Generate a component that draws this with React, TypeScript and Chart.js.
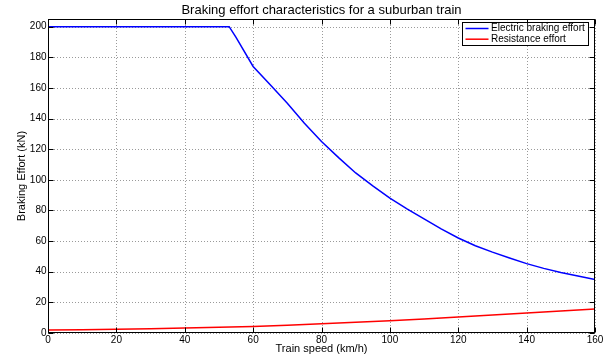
import React, { useEffect, useRef } from 'react';
import { Chart, registerables } from 'chart.js';

Chart.register(...registerables);

const chartTitle = 'Braking effort characteristics for a suburban train';
const xAxisTitle = 'Train speed (km/h)';
const yAxisTitle = 'Braking Effort (kN)';
const seriesNames = ['Electric braking effort', 'Resistance effort'];
const seriesColors = ['#0000ff', '#ff0000'];

const electricSpeed = [0, 10, 20, 30, 40, 50, 53, 55, 60, 65, 70, 75, 80, 85, 90, 95, 100, 105, 110, 115, 120, 125, 130, 135, 140, 145, 150, 155, 160];
const electricForce = [200, 200, 200, 200, 200, 200, 200, 193, 174, 162, 150, 137, 125, 114.5, 104.5, 96, 88, 81, 74.5, 68, 62, 57, 52.8, 49, 45.3, 42.2, 39.5, 37.2, 35];

const resistanceSpeed = [0, 10, 20, 30, 40, 50, 60, 70, 80, 90, 100, 110, 120, 130, 140, 150, 160];
const resistanceForce = [2, 2.2, 2.5, 2.8, 3.2, 3.7, 4.3, 5.1, 6, 7, 8, 9.2, 10.4, 11.7, 13, 14.3, 15.6];

const xMin = 0;
const xMax = 160;
const xStep = 20;
const yMin = 0;
const yMax = 205;
const yStep = 20;

const FONT = '"Liberation Sans", Arial, Helvetica, sans-serif';

const matlabPlugin = {
  id: 'matlabAxes',
  beforeDatasetsDraw(chart: any) {
    const { ctx, chartArea: a, scales } = chart;
    const x = scales.x;
    const y = scales.y;
    ctx.save();
    ctx.strokeStyle = '#9a9a9a';
    ctx.lineWidth = 1;
    ctx.setLineDash([1, 2]);
    x.ticks.forEach((t: any) => {
      const px = Math.round(x.getPixelForValue(t.value)) + 0.5;
      ctx.beginPath();
      ctx.moveTo(px, a.top);
      ctx.lineTo(px, a.bottom);
      ctx.stroke();
    });
    y.ticks.forEach((t: any) => {
      const py = Math.round(y.getPixelForValue(t.value)) + 0.5;
      ctx.beginPath();
      ctx.moveTo(a.left, py);
      ctx.lineTo(a.right, py);
      ctx.stroke();
    });
    ctx.restore();
  },
  afterDatasetsDraw(chart: any) {
    const { ctx, chartArea: a, scales } = chart;
    const x = scales.x;
    const y = scales.y;
    ctx.save();
    ctx.setLineDash([]);
    ctx.strokeStyle = '#000';
    ctx.lineWidth = 1;
    const L = Math.round(a.left) + 0.5;
    const R = Math.round(a.right) - 0.5;
    const T = Math.round(a.top) + 0.5;
    const B = Math.round(a.bottom) - 0.5;
    ctx.strokeRect(L, T, R - L, B - T);
    const tl = 5;
    ctx.beginPath();
    x.ticks.forEach((t: any) => {
      const px = Math.round(x.getPixelForValue(t.value)) + 0.5;
      ctx.moveTo(px, B);
      ctx.lineTo(px, B - tl);
      ctx.moveTo(px, T);
      ctx.lineTo(px, T + tl);
    });
    y.ticks.forEach((t: any) => {
      const py = Math.round(y.getPixelForValue(t.value)) + 0.5;
      ctx.moveTo(L, py);
      ctx.lineTo(L + tl, py);
      ctx.moveTo(R, py);
      ctx.lineTo(R - tl, py);
    });
    ctx.stroke();

    // legend
    const lx = 462.5;
    const ly = 22.5;
    const lw = 126;
    const lh = 23;
    ctx.fillStyle = '#fff';
    ctx.fillRect(lx, ly, lw, lh);
    ctx.strokeStyle = '#000';
    ctx.strokeRect(lx, ly, lw, lh);
    ctx.font = '10px ' + FONT;
    ctx.textBaseline = 'middle';
    ctx.textAlign = 'left';
    seriesNames.forEach((name, i) => {
      const ry = ly + 6 + i * 10.7;
      ctx.strokeStyle = seriesColors[i];
      ctx.lineWidth = 1.5;
      ctx.beginPath();
      ctx.moveTo(lx + 3, ry);
      ctx.lineTo(lx + 26, ry);
      ctx.stroke();
      ctx.fillStyle = '#000';
      ctx.fillText(name, lx + 28.5, ry);
    });

    // title
    ctx.font = '13px ' + FONT;
    ctx.textAlign = 'center';
    ctx.textBaseline = 'middle';
    ctx.fillStyle = '#000';
    ctx.fillText(chartTitle, (a.left + a.right) / 2, 10);
    ctx.restore();
  },
};

export default function App() {
  const canvasRef = useRef<HTMLCanvasElement | null>(null);

  useEffect(() => {
    if (!canvasRef.current) return;
    const chart = new Chart(canvasRef.current, {
      type: 'line',
      data: {
        datasets: [
          {
            label: seriesNames[0],
            data: electricSpeed.map((v, i) => ({ x: v, y: electricForce[i] })),
            borderColor: seriesColors[0],
            borderWidth: 1.5,
            pointRadius: 0,
            tension: 0,
            fill: false,
          },
          {
            label: seriesNames[1],
            data: resistanceSpeed.map((v, i) => ({ x: v, y: resistanceForce[i] })),
            borderColor: seriesColors[1],
            borderWidth: 1.5,
            pointRadius: 0,
            tension: 0,
            fill: false,
          },
        ],
      },
      options: {
        animation: false,
        responsive: false,
        devicePixelRatio: 1,
        layout: { padding: { left: 0, right: 18, top: 19, bottom: 0 } },
        plugins: {
          legend: { display: false },
          title: { display: false },
          tooltip: { enabled: false },
        },
        scales: {
          x: {
            type: 'linear',
            min: xMin,
            max: xMax,
            grid: { display: false, drawTicks: false },
            border: { display: false },
            ticks: {
              stepSize: xStep,
              includeBounds: false,
              padding: 1,
              color: '#000',
              font: { size: 10, family: FONT },
              maxRotation: 0,
            },
            title: {
              display: true,
              text: xAxisTitle,
              color: '#000',
              font: { size: 11, family: FONT },
              padding: { top: 0, bottom: 4.4 },
            },
            afterFit: (s: any) => {
              s.height = 27;
            },
          },
          y: {
            type: 'linear',
            min: yMin,
            max: yMax,
            grid: { display: false, drawTicks: false },
            border: { display: false },
            ticks: {
              stepSize: yStep,
              includeBounds: false,
              padding: 1.5,
              color: '#000',
              font: { size: 10, family: FONT },
            },
            title: {
              display: true,
              text: yAxisTitle,
              color: '#000',
              font: { size: 11, family: FONT },
              padding: { top: 15.4, bottom: 0 },
            },
            afterFit: (s: any) => {
              s.width = 48;
            },
          },
        },
      },
      plugins: [matlabPlugin],
    });
    return () => chart.destroy();
  }, []);

  return (
    <div style={{ position: 'fixed', left: 0, top: 0, width: 613, height: 360, background: '#fff' }}>
      <canvas ref={canvasRef} width={613} height={360} style={{ display: 'block' }} />
    </div>
  );
}
